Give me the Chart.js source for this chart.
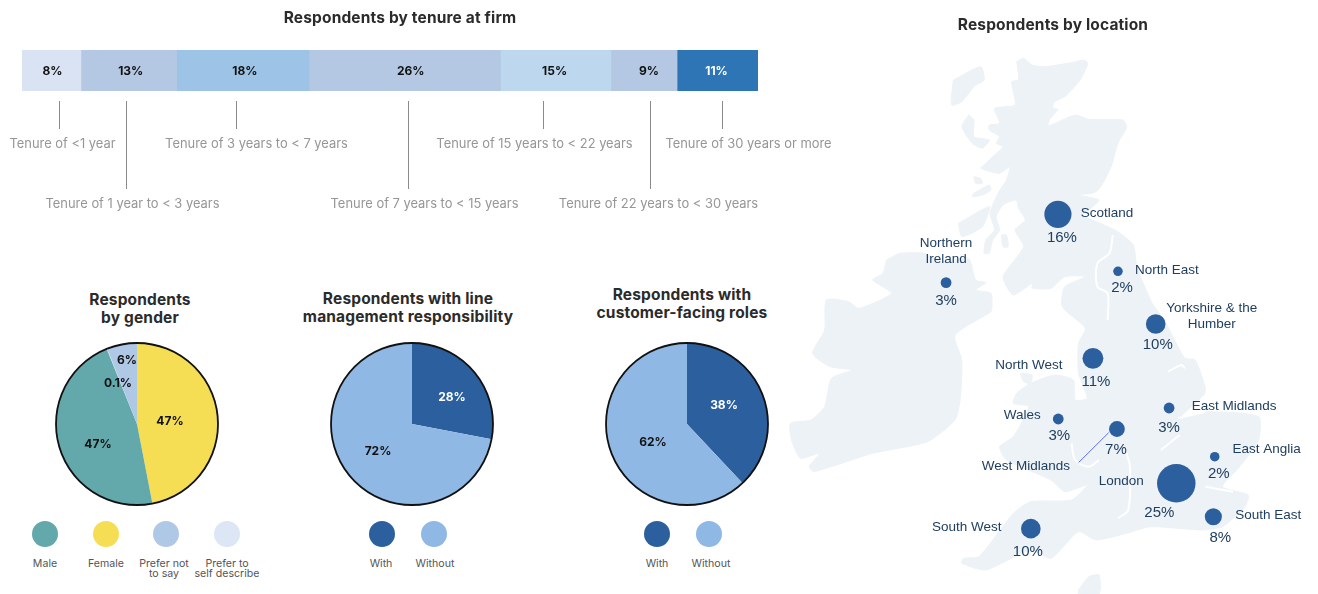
<!DOCTYPE html>
<html>
<head>
<meta charset="utf-8">
<title>Respondent profile</title>
<script src="https://cdn.jsdelivr.net/npm/chart.js@4"></script>
<style>
  html, body { margin: 0; background: #fff; overflow: hidden; }
  #page { position: relative; width: 1318px; height: 594px; font-family: Inter, sans-serif; }
  canvas { position: absolute; }
  .title { position: absolute; transform: translateX(-50%); text-align: center; white-space: nowrap;
           font-weight: 700; font-size: 15.5px; letter-spacing: 0.15px; line-height: 18px; color: #2b2b2b; }
  .dot { position: absolute; width: 26px; height: 26px; border-radius: 50%; }
  .key { position: absolute; transform: translateX(-50%); text-align: center; white-space: nowrap;
         font-size: 10.6px; line-height: 9.5px; color: #555; }
</style>
</head>
<body>
<div id="page">
  <canvas id="tenure" width="840" height="220" style="left:0;top:0"></canvas>
  <canvas id="gender" width="170" height="170" style="left:52px;top:339px"></canvas>
  <canvas id="management" width="170" height="170" style="left:327px;top:339px"></canvas>
  <canvas id="customer" width="170" height="170" style="left:602px;top:339px"></canvas>
  <canvas id="location" width="538" height="554" style="left:780px;top:40px"></canvas>
</div>
<script>
// tenure at firm
const tenureLabels = ["Tenure of <1 year", "Tenure of 1 year to < 3 years", "Tenure of 3 years to < 7 years",
  "Tenure of 7 years to < 15 years", "Tenure of 15 years to < 22 years", "Tenure of 22 years to < 30 years",
  "Tenure of 30 years or more"];
const tenureValues = [8, 13, 18, 26, 15, 9, 11];
const tenureColors = ["#dae3f3", "#b4c8e3", "#9dc3e6", "#b4c8e3", "#bdd7ee", "#b4c8e3", "#2e75b6"];

// pies
const genderLabels = ["Female", "Male", "Prefer to\nself describe", "Prefer not\nto say"];
const genderValues = [47, 47, 0.1, 6];
const genderColors = ["#f6de54", "#63a9ac", "#dce6f4", "#aec8e6"];
const managementLabels = ["With", "Without"];
const managementValues = [28, 72];
const customerLabels = ["With", "Without"];
const customerValues = [38, 62];
const withColors = ["#2c5f9e", "#8fb8e4"];

// regions, positions in map grid units
const regionNames = ["Scotland", "Northern\nIreland", "North East", "Yorkshire & the\nHumber", "North West", "Wales",
  "West Midlands", "East Midlands", "East Anglia", "London", "South East", "South West"];
const regionValues = [16, 3, 2, 10, 11, 3, 7, 3, 2, 25, 8, 10];
const regionX = [810, 484, 985, 1095, 912, 811, 982, 1134, 1267, 1155, 1263, 731];
const regionY = [523, 728, 694, 852, 955, 1137, 1167, 1104, 1250, 1330, 1430, 1466];

// coastlines, same map grid
const greatBritain = [[690,65],[710,55],[735,75],[770,80],[850,68],[885,60],[897,70],[875,120],[830,170],[800,185],
  [795,205],[810,208],[785,240],[782,258],[860,225],[900,238],[1000,240],[1010,262],[985,310],[965,380],[935,440],
  [915,458],[870,465],[930,480],[900,510],[880,525],[945,555],[985,575],[1030,615],[1040,680],[1085,790],[1120,840],
  [1150,900],[1180,955],[1210,960],[1240,1045],[1235,1065],[1170,1130],[1250,1115],[1395,1130],[1395,1200],[1340,1280],
  [1290,1340],[1365,1365],[1355,1400],[1290,1460],[1230,1470],[1080,1460],[1010,1480],[920,1500],[870,1475],[790,1555],
  [730,1530],[600,1590],[530,1570],[535,1555],[580,1550],[680,1420],[730,1385],[850,1380],[895,1335],[830,1355],
  [790,1320],[660,1260],[640,1220],[680,1190],[725,1100],[680,1090],[690,1060],[730,1030],[800,1005],[855,1020],
  [860,1080],[895,1075],[870,1000],[870,910],[890,865],[830,810],[820,790],[830,740],[890,710],[830,710],[790,745],
  [735,745],[735,730],[680,765],[650,710],[710,620],[685,570],[715,540],[695,505],[688,480],[650,495],[630,530],
  [640,570],[620,600],[610,640],[595,640],[600,600],[625,570],[612,520],[635,460],[660,420],[670,380],[640,400],
  [585,385],[600,370],[625,345],[650,320],[630,310],[640,290],[610,270],[610,255],[640,250],[625,205],[685,195],
  [675,125],[695,120],[690,65]];
const ireland = [[310,660],[350,640],[420,640],[470,665],[550,655],[570,720],[600,728],[570,750],[615,760],[618,800],
  [615,815],[510,885],[530,960],[525,1080],[510,1140],[430,1205],[270,1240],[100,1295],[85,1280],[115,1240],[60,1255],
  [35,1205],[30,1150],[90,1140],[130,1100],[150,1015],[210,990],[145,980],[95,940],[130,870],[135,780],[200,785],
  [230,805],[325,760],[270,720],[300,700],[310,660]];
const islands = [
  [[505,120],[585,80],[595,120],[565,140],[530,185],[500,195],[505,120]],
  [[550,225],[565,240],[565,290],[610,300],[590,325],[560,310],[530,260],[550,225]],
  [[565,460],[610,435],[615,450],[590,465],[560,470],[565,460]],
  [[565,410],[585,415],[590,430],[570,430],[565,410]],
  [[520,550],[610,500],[590,560],[530,590],[520,550]],
  [[645,585],[660,585],[665,620],[650,620],[645,585]],
  [[700,1000],[735,1005],[730,1030],[710,1025],[700,1000]],
  [[870,1650],[900,1610],[930,1605],[930,1662],[870,1662],[870,1650]]
];
const rivers = [
  [[970,585],[960,640],[925,670],[925,740],[955,760],[955,840]],
  [[1130,995],[1170,975],[1180,985]],
  [[1160,1135],[1240,1115]],
  [[1110,1230],[1165,1185]],
  [[1010,1240],[1020,1280],[1015,1410],[985,1435]],
  [[850,1210],[860,1260],[900,1280],[930,1260]],
  [[1240,1340],[1320,1355]]
];
const westMidlandsLeader = [[870,1268],[958,1178]];

// where the text goes, pixels from the mark it belongs to
const tenureCalloutOffsets = [8, -3, -7, 3, -13, 6, 4];
const tenureCalloutLengths = [28, 88, 28, 88, 28, 88, 28];
const tenureTextShifts = [3, 6, 20, 16, -9, 8, 26];
const tenureValueShifts = [1, 2, 2, 6, -1, 5, -1];
const genderLabelOffsets = [[33, -3], [-39, 20], [-19, -41], [-10, -64]];
const managementLabelOffsets = [[40, -27], [-34, 27]];
const customerLabelOffsets = [[37, -19], [-34, 18]];
const regionNameOffsets = [[49, -1], [0, -39], [49, -1], [56, -16], [-64, 7], [-36, -4], [-91, 37], [65, -2], [52, -7], [-55, -2], [55, -1], [-64, -1]];
const regionValueOffsets = [[4, 24], [0, 18], [4, 17], [2, 21], [3, 24], [1, 17], [-1, 21], [0, 20], [4, 17], [-17, 30], [7, 21], [-3, 23]];

const page = document.getElementById("page");

function addTitle(lines, x, top) {
  const el = document.createElement("div");
  el.className = "title";
  el.style.left = x + "px";
  el.style.top = top + "px";
  el.innerHTML = lines.join("<br>");
  page.appendChild(el);
}

addTitle(["Respondents by tenure at firm"], 400, 9);
addTitle(["Respondents", "by gender"], 140, 291);
addTitle(["Respondents with line", "management responsibility"], 408, 290);
addTitle(["Respondents with", "customer-facing roles"], 682, 286);
addTitle(["Respondents by location"], 1053, 16);

function addKey(labels, colors, dotX, textX) {
  labels.forEach((label, i) => {
    const dot = document.createElement("div");
    dot.className = "dot";
    dot.style.left = dotX[i] - 13 + "px";
    dot.style.top = "521px";
    dot.style.background = colors[i];
    page.appendChild(dot);
    const text = document.createElement("div");
    text.className = "key";
    text.style.left = textX[i] + "px";
    text.style.top = "559px";
    text.innerHTML = label.replace("\n", "<br>");
    page.appendChild(text);
  });
}

// gender key runs in its own order: male first
addKey(["Male", "Female", genderLabels[3], genderLabels[2]],
  [genderColors[1], genderColors[0], genderColors[3], genderColors[2]],
  [45, 106, 166, 227], [45, 106, 164, 227]);
addKey(managementLabels, withColors, [382, 434], [381, 435]);
addKey(customerLabels, withColors, [657, 709], [657, 711]);

Chart.defaults.animation = false;
Chart.defaults.responsive = false;
Chart.defaults.plugins.legend.display = false;
Chart.defaults.plugins.tooltip.enabled = false;

// stacked strip with value text and the callouts underneath
new Chart(document.getElementById("tenure"), {
  type: "bar",
  data: {
    labels: ["Tenure"],
    datasets: tenureValues.map((v, i) => ({
      label: tenureLabels[i],
      data: [v],
      backgroundColor: tenureColors[i],
      borderWidth: 0,
      barPercentage: 1,
      categoryPercentage: 1,
    })),
  },
  options: {
    indexAxis: "y",
    layout: { padding: { left: 22, right: 82, top: 50, bottom: 129 } },
    scales: {
      x: { display: false, stacked: true, min: 0, max: 100 },
      y: { display: false, stacked: true },
    },
  },
  plugins: [{
    id: "tenureText",
    afterDatasetsDraw(chart) {
      const ctx = chart.ctx;
      ctx.save();
      ctx.textAlign = "center";
      ctx.textBaseline = "middle";
      tenureValues.forEach((v, i) => {
        const bar = chart.getDatasetMeta(i).data[0];
        const mid = (bar.x + bar.base) / 2;
        ctx.font = "700 12px Inter";
        ctx.fillStyle = i === 6 ? "#fff" : "#111";
        ctx.fillText(v + "%", mid + tenureValueShifts[i], bar.y + 1);

        const lineX = Math.round(mid + tenureCalloutOffsets[i]) + 0.5;
        const lineEnd = 101 + tenureCalloutLengths[i];
        ctx.strokeStyle = "#8a8a8a";
        ctx.lineWidth = 1;
        ctx.beginPath();
        ctx.moveTo(lineX, 101);
        ctx.lineTo(lineX, lineEnd);
        ctx.stroke();

        ctx.font = "400 12.9px Inter";
        ctx.fillStyle = "#969696";
        ctx.fillText(tenureLabels[i], lineX + tenureTextShifts[i], lineEnd + 15);
      });
      ctx.restore();
    },
  }],
});

// outer ring and value text for a pie
const pieDecor = {
  id: "pieDecor",
  afterDatasetsDraw(chart, args, opts) {
    const ctx = chart.ctx;
    const arcs = chart.getDatasetMeta(0).data;
    const { x, y, outerRadius } = arcs[0];
    ctx.save();
    ctx.strokeStyle = "#111";
    ctx.lineWidth = 1.8;
    ctx.beginPath();
    ctx.arc(x, y, outerRadius, 0, Math.PI * 2);
    ctx.stroke();
    ctx.font = "700 12px Inter";
    ctx.textAlign = "center";
    ctx.textBaseline = "middle";
    chart.data.datasets[0].data.forEach((v, i) => {
      ctx.fillStyle = opts.textColors[i];
      ctx.fillText(v + "%", x + opts.offsets[i][0], y + opts.offsets[i][1]);
    });
    ctx.restore();
  },
};

function makePie(id, labels, values, colors, offsets, textColors) {
  new Chart(document.getElementById(id), {
    type: "pie",
    data: {
      labels: labels,
      datasets: [{ data: values, backgroundColor: colors, borderWidth: 0 }],
    },
    options: {
      radius: 81,
      plugins: { pieDecor: { offsets: offsets, textColors: textColors } },
    },
    plugins: [pieDecor],
  });
}

makePie("gender", genderLabels, genderValues, genderColors, genderLabelOffsets, ["#111", "#111", "#111", "#111"]);
makePie("management", managementLabels, managementValues, withColors, managementLabelOffsets, ["#fff", "#111"]);
makePie("customer", customerLabels, customerValues, withColors, customerLabelOffsets, ["#fff", "#111"]);

const toPoints = (pairs) => pairs.map(([x, y]) => ({ x, y }));

const landSet = (pairs) => ({
  type: "scatter",
  data: toPoints(pairs),
  showLine: true,
  fill: "shape",
  tension: 0.2,
  backgroundColor: "#edf2f6",
  borderColor: "#edf2f6",
  borderWidth: 1,
  pointRadius: 0,
  order: 3,
});

const riverSet = (pairs) => ({
  type: "scatter",
  data: toPoints(pairs),
  showLine: true,
  tension: 0.3,
  borderColor: "#ffffff",
  borderWidth: 2,
  pointRadius: 0,
  order: 2,
});

new Chart(document.getElementById("location"), {
  type: "bubble",
  data: {
    datasets: [
      {
        label: "Location",
        data: regionValues.map((v, i) => ({ x: regionX[i], y: regionY[i], r: 3.5 + 0.63 * v })),
        backgroundColor: "#2c5f9e",
        borderWidth: 0,
        order: 0,
      },
      {
        type: "scatter",
        data: toPoints(westMidlandsLeader),
        showLine: true,
        borderColor: "#5b6fe0",
        borderWidth: 1,
        pointRadius: 0,
        order: 1,
      },
      ...rivers.map(riverSet),
      landSet(greatBritain),
      landSet(ireland),
      ...islands.map(landSet),
    ],
  },
  options: {
    layout: { padding: 0, autoPadding: false },
    scales: {
      x: { display: false, type: "linear", min: 0, max: 1568 },
      y: { display: false, type: "linear", min: 0, max: 1662, reverse: true },
    },
  },
  plugins: [{
    id: "regionText",
    afterDatasetsDraw(chart) {
      const ctx = chart.ctx;
      const xScale = chart.scales.x;
      const yScale = chart.scales.y;
      ctx.save();
      ctx.fillStyle = "#1f3f60";
      ctx.textAlign = "center";
      ctx.textBaseline = "middle";
      regionNames.forEach((name, i) => {
        const x = xScale.getPixelForValue(regionX[i]);
        const y = yScale.getPixelForValue(regionY[i]);
        ctx.font = "13.5px 'Liberation Sans'";
        name.split("\n").forEach((line, n) => {
          ctx.fillText(line, x + regionNameOffsets[i][0], y + regionNameOffsets[i][1] + n * 16);
        });
        ctx.font = "15px 'Liberation Sans'";
        ctx.fillText(regionValues[i] + "%", x + regionValueOffsets[i][0], y + regionValueOffsets[i][1]);
      });
      ctx.restore();
    },
  }],
});
</script>
</body>
</html>
